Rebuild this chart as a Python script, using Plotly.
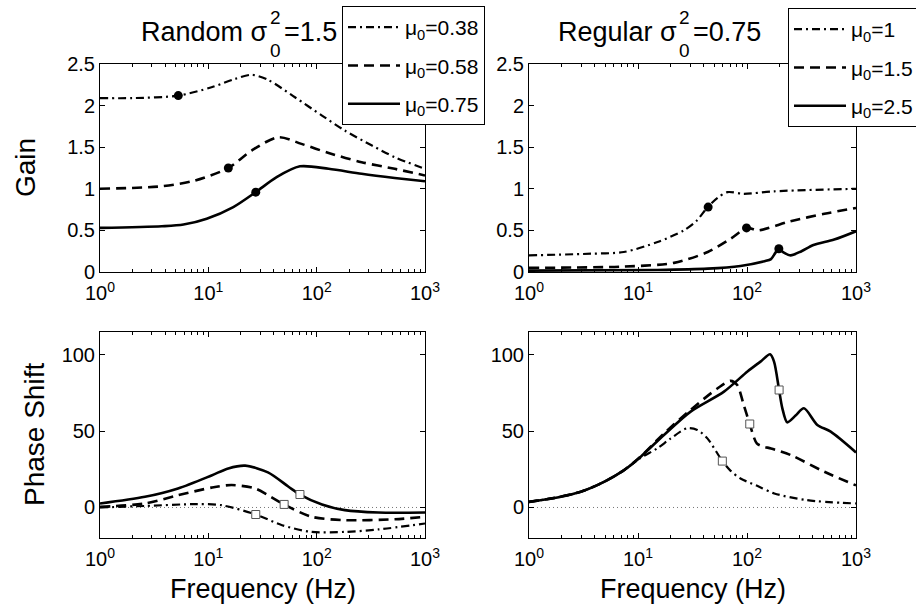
import plotly.graph_objects as go

W, H = 916, 610
FONT = "Liberation Sans, Arial, Helvetica, sans-serif"

# ---------------- data ----------------
# Top-left: Random sigma0^2 = 1.5, Gain
rg_f_a = [1, 2, 5.28, 10.7, 17.6, 25.1, 35.5, 63, 112, 182, 324, 525, 1000]
rg_g_a = [2.09, 2.09, 2.12, 2.22, 2.32, 2.37, 2.31, 2.10, 1.88, 1.70, 1.52, 1.38, 1.24]
rg_f_b = [1, 3.72, 7.53, 15.3, 25.1, 44.3, 72.4, 129, 260, 525, 1000]
rg_g_b = [1.00, 1.03, 1.10, 1.25, 1.46, 1.62, 1.54, 1.43, 1.32, 1.24, 1.16]
rg_f_c = [1, 3.72, 5.9, 9.66, 17.0, 27.4, 42.7, 70.1, 129, 260, 525, 1000]
rg_g_c = [0.53, 0.55, 0.57, 0.64, 0.78, 0.96, 1.14, 1.27, 1.24, 1.18, 1.13, 1.09]
rg_mark_f = [5.28, 15.3, 27.4]
rg_mark_g = [2.12, 1.25, 0.96]

# Top-right: Regular sigma0^2 = 0.75, Gain
gg_f_a = [1, 3.72, 7.41, 15.1, 26.3, 34.7, 43.6, 53.7, 66.1, 93.3, 178, 1000]
gg_g_a = [0.20, 0.22, 0.24, 0.36, 0.50, 0.62, 0.78, 0.89, 0.96, 0.94, 0.97, 1.00]
gg_f_b = [1, 7.41, 21.4, 43.6, 70.8, 100, 126, 251, 513, 1000]
gg_g_b = [0.05, 0.065, 0.11, 0.24, 0.40, 0.53, 0.50, 0.61, 0.70, 0.77]
gg_f_c = [1, 15.1, 43.6, 87.1, 145, 166, 182, 195, 214, 251, 316, 407, 631, 1000]
gg_g_c = [0.016, 0.024, 0.04, 0.073, 0.13, 0.155, 0.23, 0.28, 0.24, 0.20, 0.25, 0.325, 0.39, 0.49]
gg_mark_f = [44, 99, 196]
gg_mark_g = [0.78, 0.53, 0.28]

# Bottom-left: Random, Phase shift
rp_f_a = [1, 2.6, 7.59, 13.2, 27.4, 47.9, 89.1, 182, 372, 1000]
rp_p_a = [0, 1, 2.2, 1.5, -4.6, -11.6, -16, -16, -14.4, -10.5]
rp_f_b = [1, 2.6, 5.25, 10.7, 16.4, 26.9, 35.5, 50.1, 89.1, 182, 525, 1000]
rp_p_b = [0.4, 2.6, 8, 13, 14.7, 12.5, 8.1, 2, -6, -8.3, -7.7, -6.1]
rp_f_c = [1, 2.6, 5.25, 10.7, 15.3, 21.9, 35.5, 55, 70.1, 112, 182, 372, 1000]
rp_p_c = [2.6, 7, 12.5, 21, 25.6, 27.4, 23.0, 13.6, 8.5, 2.0, -1.75, -3.3, -3.3]
rp_mark_f = [27.4, 50.1, 70.1]
rp_mark_p = [-4.6, 2, 8.5]

# Bottom-right: Regular, Phase shift
gp_f_a = [1, 1.82, 2.98, 4.88, 7.45, 10.6, 15.0, 20, 28.2, 35, 43.3, 59.4, 70.8, 87.1, 124, 178, 355, 1000]
gp_p_a = [3.7, 6.6, 10.3, 16.8, 24.5, 32.6, 38.7, 45.3, 51.9, 50.8, 45.3, 30.4, 24.0, 19, 14.2, 9.2, 4.8, 2.6]
gp_f_b = [1, 1.82, 2.98, 4.88, 7.45, 10.6, 17.3, 30.4, 53.5, 70.8, 81.3, 93.3, 106, 123, 143, 166, 251, 513, 1000]
gp_p_b = [3.7, 6.6, 10.3, 16.8, 24.5, 33.5, 48.5, 64, 78, 83, 80.3, 67.2, 54.7, 42, 39.8, 38.7, 34.4, 23.4, 14.5]
gp_f_c = [1, 1.82, 2.98, 4.88, 7.45, 10.6, 17.3, 30.4, 61.5, 101, 133, 163, 177, 197, 211, 234, 279, 333, 442, 586, 1000]
gp_p_c = [3.7, 6.6, 10.3, 16.8, 24.5, 33.3, 47.5, 62.8, 75.9, 89.1, 95.6, 100.4, 95.6, 77.0, 65.0, 55.8, 60.2, 65.0, 54.1, 49.7, 36.1]
gp_mark_f = [59.4, 106, 197]
gp_mark_p = [30.4, 54.7, 77.0]

zero_f = [1, 1000]
zero_p = [0, 0]

names_random = ["μ<sub>0</sub>=0.38", "μ<sub>0</sub>=0.58", "μ<sub>0</sub>=0.75"]
names_regular = ["μ<sub>0</sub>=1", "μ<sub>0</sub>=1.5", "μ<sub>0</sub>=2.5"]

x_tickvals = [1, 10, 100, 1000]
x_ticktext = ["10<sup>0</sup>", "10<sup>1</sup>", "10<sup>2</sup>", "10<sup>3</sup>"]
gain_ticks = [0, 0.5, 1, 1.5, 2, 2.5]
phase_ticks = [0, 50, 100]

# ---------------- styles ----------------
DASHDOT = "8px,4px,2px,4px"
DASH = "10px,6px"
styles = [dict(dash=DASHDOT, width=2.2), dict(dash=DASH, width=2.6), dict(dash="solid", width=2.6)]

fig = go.Figure()

def add_curves(fs, vs, names, xa, ya, legend, show):
    for i, (f, v) in enumerate(zip(fs, vs)):
        fig.add_trace(go.Scatter(
            x=f, y=v, mode="lines", name=names[i],
            line=dict(color="black", shape="spline", smoothing=0.8, **styles[i]),
            xaxis=xa, yaxis=ya, legend=legend, showlegend=show,
            legendgroup=f"{legend}_{i}", hoverinfo="skip"))

def add_zero(xa, ya):
    fig.add_trace(go.Scatter(x=zero_f, y=zero_p, mode="lines",
                             line=dict(color="#777", width=1, dash="1px,3px"),
                             xaxis=xa, yaxis=ya, showlegend=False, hoverinfo="skip"))

add_zero("x3", "y3")
add_zero("x4", "y4")

add_curves([rg_f_a, rg_f_b, rg_f_c], [rg_g_a, rg_g_b, rg_g_c], names_random, "x", "y", "legend", True)
add_curves([gg_f_a, gg_f_b, gg_f_c], [gg_g_a, gg_g_b, gg_g_c], names_regular, "x2", "y2", "legend2", True)
add_curves([rp_f_a, rp_f_b, rp_f_c], [rp_p_a, rp_p_b, rp_p_c], names_random, "x3", "y3", "legend", False)
add_curves([gp_f_a, gp_f_b, gp_f_c], [gp_p_a, gp_p_b, gp_p_c], names_regular, "x4", "y4", "legend2", False)

for mf, mv, xa, ya in [(rg_mark_f, rg_mark_g, "x", "y"), (gg_mark_f, gg_mark_g, "x2", "y2")]:
    fig.add_trace(go.Scatter(x=mf, y=mv, mode="markers",
                             marker=dict(symbol="circle", size=9, color="black"),
                             xaxis=xa, yaxis=ya, showlegend=False, hoverinfo="skip"))
for mf, mv, xa, ya in [(rp_mark_f, rp_mark_p, "x3", "y3"), (gp_mark_f, gp_mark_p, "x4", "y4")]:
    fig.add_trace(go.Scatter(x=mf, y=mv, mode="markers",
                             marker=dict(symbol="square", size=8, color="white",
                                         line=dict(color="#555", width=1)),
                             xaxis=xa, yaxis=ya, showlegend=False, hoverinfo="skip"))

# ---------------- axes ----------------
minor_vals = [m * d for d in (1, 10, 100) for m in range(2, 10)]

def px_dom_x(a, b):
    return [a / W, b / W]

def px_dom_y(top, bottom):
    return [1 - bottom / H, 1 - top / H]

common_x = dict(type="log", range=[0, 3], tickvals=x_tickvals, ticktext=x_ticktext,
                ticks="inside", ticklen=5, tickcolor="black", showline=True, linecolor="black",
                linewidth=1, mirror="allticks", showgrid=False, zeroline=False,
                ticklabelstandoff=3, automargin=False,
                tickfont=dict(family=FONT, size=20, color="black"),
                minor=dict(tickvals=minor_vals, ticks="inside", ticklen=3, tickcolor="black", showgrid=False))
common_y = dict(ticks="inside", ticklen=5, tickcolor="black", showline=True, linecolor="black",
                linewidth=1, mirror="allticks", showgrid=False, zeroline=False, automargin=False,
                tickfont=dict(family=FONT, size=20, color="black"))

XL = (100, 425)
XR = (529, 856)
YT = (64, 272)
YB = (332, 538)

fig.update_layout(
    xaxis=dict(domain=px_dom_x(*XL), anchor="y", **common_x),
    xaxis2=dict(domain=px_dom_x(*XR), anchor="y2", **common_x),
    xaxis3=dict(domain=px_dom_x(*XL), anchor="y3", **common_x),
    xaxis4=dict(domain=px_dom_x(*XR), anchor="y4", **common_x),
    yaxis=dict(domain=px_dom_y(*YT), anchor="x", range=[0, 2.5], tickvals=gain_ticks, **common_y),
    yaxis2=dict(domain=px_dom_y(*YT), anchor="x2", range=[0, 2.5], tickvals=gain_ticks, **common_y),
    yaxis3=dict(domain=px_dom_y(*YB), anchor="x3", range=[-20, 115], tickvals=phase_ticks, **common_y),
    yaxis4=dict(domain=px_dom_y(*YB), anchor="x4", range=[-20, 115], tickvals=phase_ticks, **common_y),
)

leg_common = dict(xanchor="left", yanchor="top", bgcolor="white", bordercolor="black",
                  borderwidth=1, font=dict(family=FONT, size=21, color="black"),
                  tracegroupgap=8, itemwidth=52)
fig.update_layout(
    legend=dict(x=342 / W, y=1 - 6 / H, **leg_common),
    legend2=dict(x=788 / W, y=1 - 8 / H, **leg_common),
)

# ---------------- text ----------------
ann = []

def a(text, xpx, ypx, size, xanchor="center", yanchor="middle", angle=0):
    ann.append(dict(text=text, x=xpx / W, y=1 - ypx / H, xref="paper", yref="paper",
                    xanchor=xanchor, yanchor=yanchor, showarrow=False, textangle=angle,
                    font=dict(family=FONT, size=size, color="black")))

# titles (sigma with stacked sub/superscript)
a("Random σ", 270, 32, 27, xanchor="right")
a("2", 268, 18, 19, xanchor="left")
a("0", 268, 51, 19, xanchor="left")
a("=1.5", 282, 32, 27, xanchor="left")

a("Regular σ", 679, 32, 27, xanchor="right")
a("2", 677, 18, 19, xanchor="left")
a("0", 677, 51, 19, xanchor="left")
a("=0.75", 691, 32, 27, xanchor="left")

a("Gain", 25, 168, 28, angle=-90)
a("Phase Shift", 34, 435, 28, angle=-90)
a("Frequency (Hz)", 262.5, 589, 27)
a("Frequency (Hz)", 692.5, 589, 27)

fig.update_layout(
    annotations=ann,
    width=W, height=H,
    margin=dict(l=0, r=0, t=0, b=0, pad=0, autoexpand=False),
    paper_bgcolor="white", plot_bgcolor="white",
    font=dict(family=FONT, color="black"),
)

fig.write_html("out.html")
